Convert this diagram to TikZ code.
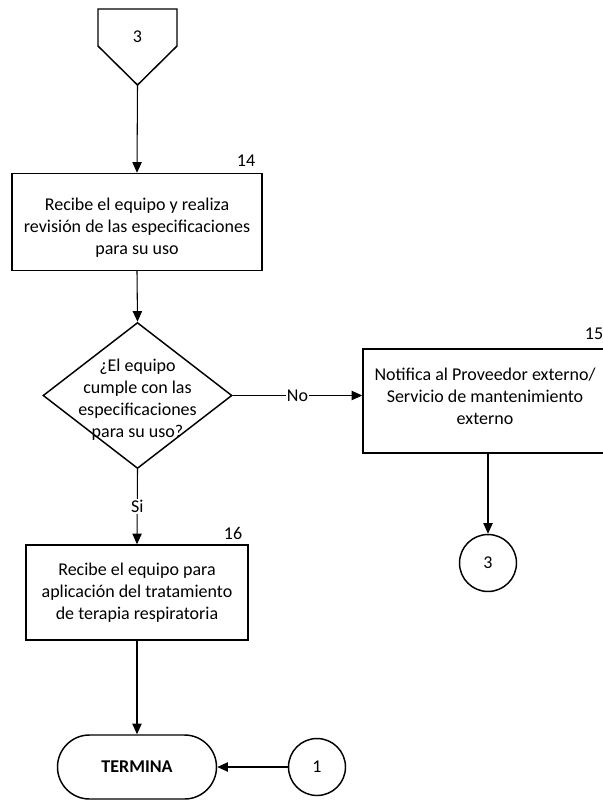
\documentclass[tikz,border=0pt]{standalone}
\usepackage{fontspec}
\setmainfont{Carlito}
\usetikzlibrary{shapes.geometric,arrows.meta}
\begin{document}
\begin{tikzpicture}[x=0.75pt,y=-0.75pt,
  txt/.style={font=\fontsize{13.5}{16.5}\selectfont, align=center},
  procbox/.style={draw, line width=1.1pt, txt, inner sep=0pt},
  conn/.style={draw, circle, line width=1.1pt, minimum size=42.75pt, inner sep=0pt, txt},
  flow/.style={line width=0.8pt, -{Triangle[length=8pt,width=7pt]}},
  numlbl/.style={txt, inner sep=1pt}
]
\useasboundingbox (0,0) rectangle (603,800);

% off-page connector
\draw[line width=1.1pt] (98,9) -- (177,9) -- (177,46) -- (137.5,85) -- (98,46) -- cycle;
\node[txt] (off3) at (137.5,37) {3};
\coordinate (offtip) at (137.5,85);

% box 14
\node[procbox, minimum width=187.5pt, minimum height=72.75pt] (b14) at (137,222) {};
\node[txt] (b14txt) at (137,228)
  {Recibe el equipo y realiza\\revisión de las especificaciones\\para su uso};
\node[numlbl] (n14) at (246,161) {14};

% decision
\node[draw, diamond, line width=1.1pt, minimum width=141.75pt, minimum height=109.5pt, inner sep=0pt] (dia) at (137.5,395.5) {};
\node[txt] (diatxt) at (137.5,400) {¿El equipo\\cumple con las\\especificaciones\\para su uso?};

% box 15
\node[procbox, minimum width=181.5pt, minimum height=78pt] (b15) at (484,401) {};
\node[txt] (b15txt) at (485,396) {Notifica al Proveedor externo/\\Servicio de mantenimiento\\externo};
\node[numlbl] (n15) at (594,334) {15};

% connector 3
\node[conn] (c3) at (488,563) {3};

% box 16
\node[procbox, minimum width=166.5pt, minimum height=71.25pt] (b16) at (137,592.5)
  {Recibe el equipo para\\aplicación del tratamiento\\de terapia respiratoria};
\node[numlbl] (n16) at (233,533) {16};

% terminator
\node[draw, line width=1.1pt, rounded corners=24pt, minimum width=119.25pt, minimum height=48pt, inner sep=0pt,
  font=\fontsize{13.5}{16.5}\selectfont\bfseries] (term) at (137,767) {TERMINA};

% connector 1
\node[conn] (c1) at (317,767) {1};

% connectors
\draw[flow] (offtip) -- (b14.north);
\draw[flow] (b14.south) -- (dia.north);
\draw[flow] (dia.east) -- node[txt, fill=white, inner sep=1pt] (no) {No} (dia.east -| b15.west);
\draw[flow] (dia.south) -- node[txt, fill=white, inner sep=1pt, pos=0.5] (si) {Si} (b16.north);
\draw[flow] (b15.south -| c3.north) -- (c3.north);
\draw[flow] (b16.south) -- (term.north);
\draw[flow] (c1.west) -- (term.east);
\end{tikzpicture}
\end{document}
